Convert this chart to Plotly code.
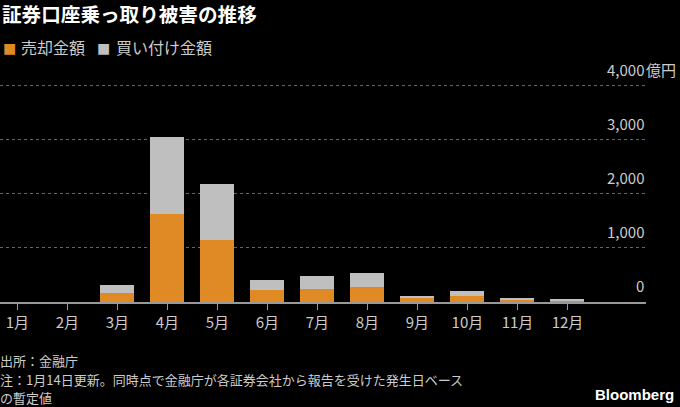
import plotly.graph_objects as go

months = ["1月", "2月", "3月", "4月", "5月", "6月", "7月", "8月", "9月", "10月", "11月", "12月"]
sell_amount = [0, 0, 167, 1630, 1154, 228, 246, 270, 65, 105, 55, 30]
buy_amount = [0, 0, 153, 1425, 1036, 172, 228, 260, 46, 99, 12, 13]
series_names = ["売却金額", "買い付け金額"]
y_tick_values = [0, 1000, 2000, 3000, 4000]
y_tick_labels = ["0", "1,000", "2,000", "3,000", "4,000"]
y_unit = "億円"
footer_lines = ["出所：金融庁",
                "注：1月14日更新。同時点で金融庁が各証券会社から報告を受けた発生日ベース",
                "の暫定値"]

ORANGE = "#E08A26"
GRAY = "#BFBFBF"
TEXT = "#CCCCCC"
FONT = "Noto Sans CJK JP"

Y0_PIX = 302.3
PIX_PER_1000 = 54.1
TOP_PIX = 84
Y_MAX = (Y0_PIX - TOP_PIX) / PIX_PER_1000 * 1000
H_PLOT = Y0_PIX - TOP_PIX


def py(pixel):
    return (Y0_PIX - pixel) / H_PLOT


def px(pixel):
    return pixel / 646.0


fig = go.Figure()
fig.add_trace(go.Bar(x=list(range(len(months))), y=sell_amount, name=series_names[0],
                     marker=dict(color=ORANGE, line=dict(width=0)), showlegend=False))
fig.add_trace(go.Bar(x=list(range(len(months))), y=buy_amount, name=series_names[1],
                     marker=dict(color=GRAY, line=dict(width=0)), showlegend=False))

annotations = []
# legend (text based)
for sx, tx, col, name in [(1, 19, ORANGE, series_names[0]), (95, 114, GRAY, series_names[1])]:
    annotations.append(dict(x=px(sx), xref="paper", y=py(47.5), yref="paper", text="■",
                            xanchor="left", yanchor="middle", showarrow=False,
                            font=dict(size=14, color=col, family="DejaVu Sans")))
    annotations.append(dict(x=px(tx), xref="paper", y=py(47), yref="paper", text=name,
                            xanchor="left", yanchor="middle", showarrow=False,
                            font=dict(size=16, color=TEXT, family=FONT)))
for v, lab in zip(y_tick_values, y_tick_labels):
    annotations.append(dict(x=1, xref="paper", y=v, yref="y", text=lab,
                            xanchor="right", yanchor="bottom", yshift=4,
                            showarrow=False, font=dict(size=15, color=TEXT, family=FONT)))
annotations.append(dict(x=1, xref="paper", y=y_tick_values[-1], yref="y", text=y_unit,
                        xanchor="left", yanchor="bottom", yshift=4, xshift=-2,
                        showarrow=False, font=dict(size=15, color=TEXT, family=FONT)))
for i, line in enumerate(footer_lines):
    annotations.append(dict(x=0, xref="paper", y=py(361 + 18.5 * i), yref="paper",
                            text=line, xanchor="left", yanchor="middle", showarrow=False,
                            xshift=-2, font=dict(size=13, color=TEXT, family=FONT)))
annotations.append(dict(x=1, xref="paper", y=py(395), yref="paper", text="<b>Bloomberg</b>",
                        xanchor="right", yanchor="middle", showarrow=False, xshift=30,
                        font=dict(size=15, color="#FFFFFF", family="Liberation Sans")))

fig.update_layout(
    width=680, height=407,
    paper_bgcolor="#000000", plot_bgcolor="#000000",
    barmode="stack", bargap=0.32,
    margin=dict(l=0, r=34, t=TOP_PIX, b=407 - Y0_PIX),
    font=dict(family=FONT, color=TEXT),
    title=dict(text="<b>証券口座乗っ取り被害の推移</b>", x=0.003, xanchor="left",
               y=1 - 15 / 407, yanchor="middle", yref="container",
               font=dict(size=19.6, color="#FFFFFF", family=FONT)),
    showlegend=False,
    xaxis=dict(tickmode="array", tickvals=list(range(len(months))), ticktext=months,
               range=[-0.346, 12.57], showgrid=False, zeroline=False,
               showline=True, linecolor="#999999", linewidth=1.5,
               ticks="outside", ticklen=6, tickcolor="#999999", tickwidth=1,
               tickfont=dict(size=15, color=TEXT, family=FONT)),
    yaxis=dict(range=[0, Y_MAX], tickvals=y_tick_values, showticklabels=False,
               showgrid=True, gridcolor="#666666", griddash="dot", gridwidth=1,
               zeroline=False),
    annotations=annotations,
)

fig.write_html("out.html", config={"displayModeBar": False},
               post_script="document.body.style.margin='0';document.body.style.overflow='hidden';")
